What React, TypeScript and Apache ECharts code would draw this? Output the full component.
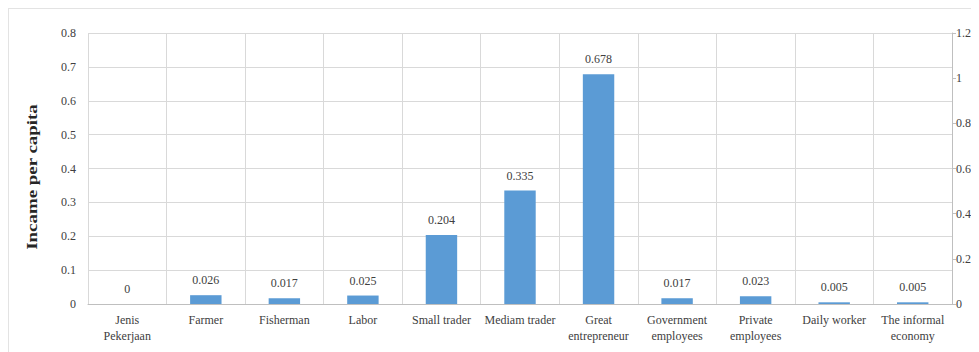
import React, { useEffect, useRef } from "react";
import * as echarts from "echarts";

const categories = [
  "Jenis\nPekerjaan",
  "Farmer",
  "Fisherman",
  "Labor",
  "Small trader",
  "Mediam trader",
  "Great\nentrepreneur",
  "Government\nemployees",
  "Private\nemployees",
  "Daily worker",
  "The informal\neconomy",
];
const incomePerCapita = [0, 0.026, 0.017, 0.025, 0.204, 0.335, 0.678, 0.017, 0.023, 0.005, 0.005];
const valueLabels = ["0", "0.026", "0.017", "0.025", "0.204", "0.335", "0.678", "0.017", "0.023", "0.005", "0.005"];
const axisTitle = "Incame per capita";

const FONT = "Liberation Serif";

export default function App() {
  const ref = useRef<HTMLDivElement>(null);

  useEffect(() => {
    document.documentElement.style.overflow = "hidden";
    const chart = echarts.init(ref.current!, null, { renderer: "svg" });
    chart.setOption({
      animation: false,
      backgroundColor: "#ffffff",
      textStyle: { fontFamily: FONT },
      grid: { left: 79, right: 27, top: 24, bottom: 48, containLabel: false },
      graphic: [
        {
          // vertical axis title, stretched along its length
          type: "text",
          x: 23,
          y: 168,
          rotation: Math.PI / 2,
          scaleX: 1.35,
          style: {
            text: axisTitle,
            font: "bold 14px Liberation Serif",
            fill: "#262626",
            align: "center",
            verticalAlign: "middle",
          },
        },
      ],
      xAxis: {
        type: "category",
        data: categories,
        boundaryGap: true,
        axisLine: { show: true, lineStyle: { color: "#bfbfbf", width: 1 } },
        axisTick: { show: false },
        axisLabel: {
          interval: 0,
          color: "#404040",
          fontFamily: FONT,
          fontSize: 12,
          lineHeight: 16,
          margin: 8,
        },
        splitLine: { show: true, interval: 0, lineStyle: { color: "#d9d9d9", width: 1 } },
      },
      yAxis: [
        {
          type: "value",
          min: 0,
          max: 0.8,
          interval: 0.1,
          axisLine: { show: false },
          axisTick: { show: false },
          axisLabel: {
            color: "#404040",
            fontFamily: FONT,
            fontSize: 12,
            margin: 12,
            formatter: (v: number) => (v === 0 ? "0" : v.toFixed(1)),
          },
          splitLine: { show: true, lineStyle: { color: "#d9d9d9", width: 1 } },
        },
        {
          type: "value",
          min: 0,
          max: 1.2,
          interval: 0.2,
          position: "right",
          axisLine: { show: true, lineStyle: { color: "#bfbfbf", width: 1 } },
          axisTick: { show: true, length: 4, lineStyle: { color: "#bfbfbf" } },
          axisLabel: {
            color: "#404040",
            fontFamily: FONT,
            fontSize: 12,
            margin: 4,
            formatter: (v: number) => String(Math.round(v * 10) / 10),
          },
          splitLine: { show: false },
        },
      ],
      series: [
        {
          type: "bar",
          yAxisIndex: 0,
          data: incomePerCapita,
          barWidth: "40%",
          itemStyle: { color: "#5b9bd5" },
          label: {
            show: true,
            position: "top",
            distance: 9,
            color: "#404040",
            fontFamily: FONT,
            fontSize: 12,
            formatter: (p: any) => valueLabels[p.dataIndex],
          },
        },
      ],
    });
    return () => chart.dispose();
  }, []);

  return (
    <div
      ref={ref}
      style={{
        width: 971,
        height: 344,
        boxSizing: "border-box",
        borderTop: "1px solid #e3e3e3",
        borderLeft: "1px solid #e3e3e3",
      }}
    />
  );
}
